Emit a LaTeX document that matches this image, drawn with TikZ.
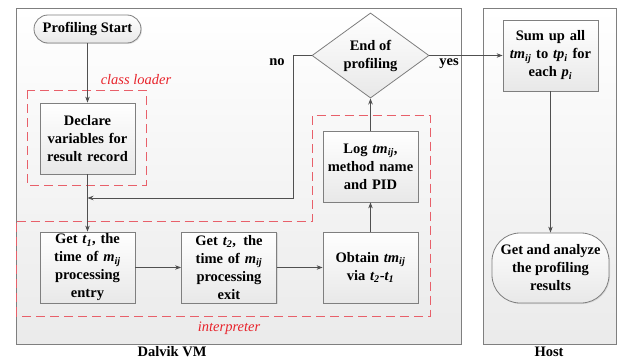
\documentclass[tikz,border=0pt]{standalone}
\usepackage{fontspec}
\setmainfont{Liberation Serif}
\usetikzlibrary{arrows.meta,shapes.geometric,shadows}
\definecolor{edgegray}{HTML}{7F7F7F}
\definecolor{linegray}{HTML}{505050}
\definecolor{zonered}{HTML}{E8606A}
\definecolor{labelred}{HTML}{E8242C}
\newcommand{\sub}[2]{\textit{#1}\textsubscript{\textit{#2}}}
\begin{document}
\begin{tikzpicture}[x=1pt,y=-1pt,
  txt/.style={font=\fontsize{14.5}{18}\selectfont\bfseries, align=center},
  panel/.style={draw=edgegray, line width=0.8pt, top color=white, bottom color=black!8},
  stepbox/.style={txt, draw=edgegray, line width=0.8pt, top color=white, bottom color=black!9,
    minimum width=95pt, minimum height=71pt, inner sep=0pt, text width=90pt,
    drop shadow={opacity=0.2, shadow xshift=1pt, shadow yshift=-1pt}},
  decision/.style={txt, diamond, draw=edgegray, line width=0.8pt, top color=white, bottom color=black!9,
    minimum width=117pt, minimum height=71pt, inner sep=0pt},
  terminal/.style={txt, draw=edgegray, line width=0.8pt, top color=white, bottom color=black!9,
    rounded corners=#1, inner sep=0pt,
    drop shadow={opacity=0.2, shadow xshift=1pt, shadow yshift=-1pt}},
  zone/.style={draw=zonered, line width=1pt, dash pattern=on 9pt off 5pt},
  zonelabel/.style={font=\fontsize{14.5}{18}\selectfont\itshape, text=labelred},
  arr/.style={draw=linegray, line width=0.8pt, -{Stealth[length=6pt,width=4.5pt]}},
  ln/.style={draw=linegray, line width=0.8pt}
]
\useasboundingbox (0,0) rectangle (618,361);

% outer panels
\path[panel] (16,8) rectangle (461,344);
\path[panel] (483,8) rectangle (616.5,344);
\node[txt] (dvm) at (172,352) {Dalvik VM};
\node[txt] (host) at (549,352) {Host};

% execution zones
\draw[zone] (27,90) rectangle (146,185);
\node[zonelabel] (cl) at (136,80) {class loader};
\draw[zone] (16.5,221) -- (312,221) -- (312,115) -- (430,115) -- (430,316) -- (16.5,316) -- cycle;
\node[zonelabel] (ip) at (229,328) {interpreter};

% flow nodes
\node[terminal=14pt, minimum width=107pt, minimum height=28pt] (start) at (87.5,29) {Profiling Start};
\node[stepbox] (decl) at (87.5,138.5) {Declare\\variables for\\result record};
\node[stepbox] (get1) at (87.5,267.5) {Get \textit{t\textsubscript{1}}, the\\time of \sub{m}{ij}\\processing\\entry};
\node[stepbox] (get2) at (229,267.5) {Get \textit{t\textsubscript{2}},\, the\\time of \sub{m}{ij}\\processing\\exit};
\node[stepbox] (obt) at (370.5,267.5) {Obtain \sub{tm}{ij}\\via \textit{t\textsubscript{2}}-\textit{t\textsubscript{1}}};
\node[stepbox] (log) at (370.5,166.5) {Log \sub{tm}{ij},\\method name\\and PID};
\node[decision] (end) at (370.5,55.5) {End of\\profiling};
\node[stepbox] (sum) at (550.5,55.5) {Sum up all\\\sub{tm}{ij} to \sub{tp}{i} for\\each \sub{p}{i}};
\node[terminal=28pt, minimum width=117pt, minimum height=70pt] (res) at (550.5,268) {Get and analyze\\the profiling\\results};

\node[txt] (no) at (277,62) {no};
\node[txt] (yes) at (449,64) {yes};

% connectors
\coordinate (turn) at (293,198);
\coordinate (merge) at (87.5,198);
\draw[arr] (start) -- (decl);
\draw[arr] (decl) -- (get1);
\draw[arr] (get1) -- (get2);
\draw[arr] (get2) -- (obt);
\draw[arr] (obt) -- (log);
\draw[arr] (log) -- (end);
\draw[arr] (end.west) -| (turn) -- (merge);
\draw[arr] (end.east) -- (sum);
\draw[arr] (sum) -- (res);
\end{tikzpicture}
\end{document}
